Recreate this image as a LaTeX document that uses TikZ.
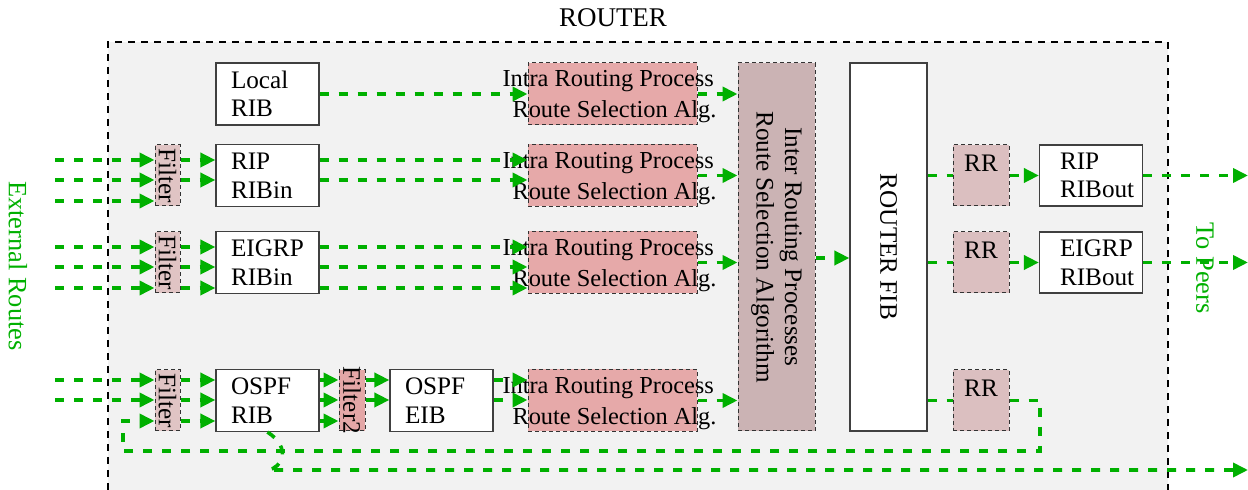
\documentclass[tikz,border=0pt]{standalone}
\usepackage{fontspec}
\setmainfont{Liberation Serif}
\usetikzlibrary{arrows.meta}

\definecolor{flowgreen}{HTML}{00B000}
\definecolor{routerbg}{HTML}{F2F2F2}
\definecolor{intrafill}{HTML}{E6A9A9}
\definecolor{interfill}{HTML}{CBB3B4}
\definecolor{filterfill}{HTML}{E0C4C4}
\definecolor{filtertwofill}{HTML}{E4A7A7}
\definecolor{rrfill}{HTML}{DBBFC0}

\begin{document}
\begin{tikzpicture}[x=0.5pt, y=-0.5pt,
        font=\fontsize{12.6pt}{14.3pt}\selectfont,
        ribbox/.style={draw=black!75, line width=0.6pt, fill=white, minimum width=51.5pt, minimum height=31pt, inner xsep=7.5pt, text width=36.5pt, align=left},
        outbox/.style={ribbox, minimum height=30.5pt, inner xsep=10pt, text width=31pt},
        dashbox/.style={draw=black!80, line width=0.5pt, dash pattern=on 2pt off 1.5pt, inner sep=0pt},
        filterbox/.style={dashbox, fill=filterfill, minimum width=12.5pt, minimum height=30.5pt, label={[rotate=-90]center:#1}},
        intrabox/.style={dashbox, fill=intrafill, minimum width=84.5pt, minimum height=31pt,
            label={[xshift=-1.5pt, yshift=-1.5pt, align=left, font=\fontsize{12.2pt}{15.5pt}\selectfont]center:Intra Routing Process\\\hspace{5pt}Route Selection Alg.}},
        tallbox/.style={minimum width=38.5pt, minimum height=184pt, inner sep=0pt, label={[rotate=-90, align=center]center:#1}},
        rrbox/.style={dashbox, fill=rrfill, minimum width=28pt, minimum height=30.5pt, label={[anchor=north, yshift=-1.5pt]north:RR}},
        sidelabel/.style={text=flowgreen, rotate=-90, font=\fontsize{13.2pt}{15pt}\selectfont},
        flow/.style={draw=flowgreen, line width=1.8pt, dash pattern=on 4.5pt off 5pt, -{Triangle[length=7.5pt, width=7pt]}},
        link/.style={flow, -}
    ]
        \useasboundingbox (0,0) rectangle (1248,490);

        % Router area
        \fill[routerbg] (108,42) rectangle (1168,490);
        \draw[line width=1pt, dash pattern=on 3.5pt off 3pt] (108,490) |- (1168,42) -- (1168,490);
        \node[font=\fontsize{13.5pt}{15pt}\selectfont] (routerlbl) at (613,18) {ROUTER};

        % Side labels
        \node[sidelabel] (extlbl) at (18,266) {External Routes};
        \node[sidelabel] (peerlbl) at (1205,268) {To Peers};
        \coordinate (extin) at (55,0);
        \coordinate (peerout) at (1248,0);

        % Filters and RIBs
        \node[filterbox=Filter] (filtRIP) at (167.5,175.5) {};
        \node[filterbox=Filter] (filtEIGRP) at (167.5,262.5) {};
        \node[filterbox=Filter] (filtOSPF) at (167.5,400.5) {};
        \node[ribbox] (ribLocal) at (267.5,94) {Local\\RIB};
        \node[ribbox] (ribRIP) at (267.5,175.5) {RIP\\RIBin};
        \node[ribbox] (ribEIGRP) at (267.5,262.5) {EIGRP\\RIBin};
        \node[ribbox] (ribOSPF) at (267.5,400.5) {OSPF\\RIB};
        \node[filterbox=Filter2, fill=filtertwofill, minimum width=13pt] (filtTwo) at (352,400.5) {};
        \node[ribbox] (eibOSPF) at (441.5,400.5) {OSPF\\EIB};

        % Intra routing processes
        \foreach \n/\y in {Local/94, RIP/175.5, EIGRP/262.5, OSPF/400.5}
            \node[intrabox] (intra\n) at (612.5,\y) {};

        % Inter process and FIB
        \node[tallbox={Inter Routing Processes\\Route Selection Algorithm}, dashbox, fill=interfill] (inter) at (776.5,247) {};
        \node[tallbox=ROUTER FIB, draw=black!75, line width=0.6pt, fill=white] (fib) at (888.5,247) {};

        % Redistribution and RIBout
        \node[rrbox] (rrRIP) at (981,175.5) {};
        \node[rrbox] (rrEIGRP) at (981,262.5) {};
        \node[rrbox] (rrOSPF) at (981,400.5) {};
        \node[outbox] (outRIP) at (1091,175.5) {RIP\\RIBout};
        \node[outbox] (outEIGRP) at (1091,262.5) {EIGRP\\RIBout};

        % External routes into the filters
        \foreach \y in {160,180,201} \draw[flow] (extin |- 0,\y) -- (filtRIP.west |- 0,\y);
        \foreach \y in {247,267,288} \draw[flow] (extin |- 0,\y) -- (filtEIGRP.west |- 0,\y);
        \foreach \y in {380,400} \draw[flow] (extin |- 0,\y) -- (filtOSPF.west |- 0,\y);

        % Filters into RIBs
        \foreach \y in {160,180} \draw[flow] (filtRIP.east |- 0,\y) -- (ribRIP.west |- 0,\y);
        \foreach \y in {247,267,288} \draw[flow] (filtEIGRP.east |- 0,\y) -- (ribEIGRP.west |- 0,\y);
        \foreach \y in {380,400,421} \draw[flow] (filtOSPF.east |- 0,\y) -- (ribOSPF.west |- 0,\y);

        % RIBs into intra processes
        \draw[flow] (ribLocal) -- (intraLocal);
        \foreach \y in {160,180} \draw[flow] (ribRIP.east |- 0,\y) -- (intraRIP.west |- 0,\y);
        \foreach \y in {247,267,288} \draw[flow] (ribEIGRP.east |- 0,\y) -- (intraEIGRP.west |- 0,\y);
        \foreach \y in {380,400,421} \draw[flow] (ribOSPF.east |- 0,\y) -- (filtTwo.west |- 0,\y);
        \foreach \y in {380,400} \draw[flow] (filtTwo.east |- 0,\y) -- (eibOSPF.west |- 0,\y);
        \foreach \y in {380,400} \draw[flow] (eibOSPF.east |- 0,\y) -- (intraOSPF.west |- 0,\y);

        % Intra to inter to FIB
        \foreach \n in {Local,RIP,EIGRP,OSPF} \draw[flow] (intra\n.east) -- (inter.west |- intra\n.east);
        \draw[flow] (inter.east |- 0,258) -- (fib.west |- 0,258);

        % FIB out to peers
        \foreach \n in {RIP,EIGRP} {
            \draw[link] (fib.east |- rr\n.west) -- (rr\n.west);
            \draw[flow] (rr\n.east) -- (out\n.west);
            \draw[flow] (out\n.east) -- (peerout |- out\n.east);
        }
        \draw[link] (fib.east |- rrOSPF.west) -- (rrOSPF.west);
        \draw[flow] (rrOSPF.east) -| (1040,451) -| (123,421) -- (filtOSPF.west |- 0,421);
        \draw[flow] (ribOSPF.south) .. controls (292,448) and (282,468) .. (268,470) -- (peerout |- 0,470);
    \end{tikzpicture}
\end{document}
